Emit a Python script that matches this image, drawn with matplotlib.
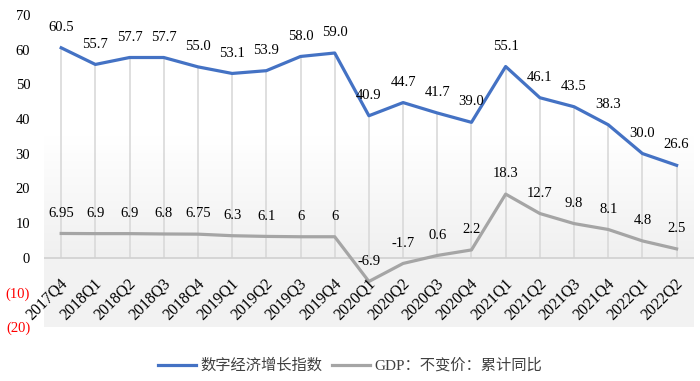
import numpy as np
import matplotlib.pyplot as plt
from matplotlib.colors import LinearSegmentedColormap

plt.rcParams['font.family'] = ['Liberation Serif', 'Noto Sans CJK SC']

quarters = ['2017Q4', '2018Q1', '2018Q2', '2018Q3', '2018Q4', '2019Q1', '2019Q2',
            '2019Q3', '2019Q4', '2020Q1', '2020Q2', '2020Q3', '2020Q4', '2021Q1',
            '2021Q2', '2021Q3', '2021Q4', '2022Q1', '2022Q2']
digital_index = [60.5, 55.7, 57.7, 57.7, 55.0, 53.1, 53.9, 58.0, 59.0, 40.9,
                 44.7, 41.7, 39.0, 55.1, 46.1, 43.5, 38.3, 30.0, 26.6]
gdp = [6.95, 6.9, 6.9, 6.8, 6.75, 6.3, 6.1, 6, 6, -6.9,
       -1.7, 0.6, 2.2, 18.3, 12.7, 9.8, 8.1, 4.8, 2.5]
gdp_labels = ['6.95', '6.9', '6.9', '6.8', '6.75', '6.3', '6.1', '6', '6', '-6.9',
              '-1.7', '0.6', '2.2', '18.3', '12.7', '9.8', '8.1', '4.8', '2.5']
yticks = [-20, -10, 0, 10, 20, 30, 40, 50, 60, 70]

fig = plt.figure(figsize=(7, 3.81), dpi=100)
ax = fig.add_axes([0.063, 0.142, 0.928, 0.819])

x = np.arange(len(quarters))
xmin, xmax = -0.5, len(quarters) - 0.5
ymin, ymax = -20, 70

# background: gradient above zero, flat light gray below
cmap = LinearSegmentedColormap.from_list('bg', ['#ffffff', '#ffffff', '#f0f0f0'])
grad = np.linspace(0, 1, 256).reshape(-1, 1)
ax.imshow(grad, cmap=cmap, aspect='auto', extent=[xmin, xmax, 0, ymax],
          zorder=0, origin='upper')
ax.axhspan(ymin, 0, color='#f2f2f2', lw=0, zorder=0)

# drop lines and zero line
ax.vlines(x, 0, digital_index, color='#d9d9d9', lw=1.2, zorder=1)
ax.axhline(0, color='#d0d0d0', lw=1.2, zorder=1)

ax.plot(x, digital_index, color='#4472C4', lw=2.3, zorder=3, label='数字经济增长指数')
ax.plot(x, gdp, color='#A5A5A5', lw=2.3, zorder=3, label='GDP：不变价：累计同比')

for i, v in enumerate(digital_index):
    ax.annotate(f'{v:.1f}', (i, v), xytext=(0, 10), textcoords='offset points',
                ha='center', va='bottom', fontsize=10.5)
for i, v in enumerate(gdp):
    ax.annotate(gdp_labels[i], (i, v), xytext=(0, 10), textcoords='offset points',
                ha='center', va='bottom', fontsize=10.5)

# category labels below the zero line
for i, q in enumerate(quarters):
    ax.text(i - 0.05, -5.2, q, rotation=45, ha='right', va='top',
            rotation_mode='anchor', fontsize=11.5)

ax.set_xlim(xmin, xmax)
ax.set_ylim(ymin, ymax)
ax.set_xticks([])
ax.set_yticks(yticks)
ax.set_yticklabels([f'({-t})' if t < 0 else str(t) for t in yticks], fontsize=10.5)
for t, lab in zip(yticks, ax.get_yticklabels()):
    if t < 0:
        lab.set_color('red')
ax.tick_params(axis='y', length=0, pad=10)
for s in ax.spines.values():
    s.set_visible(False)

leg = fig.legend(loc='lower center', bbox_to_anchor=(0.5, -0.015), ncol=2, frameon=False,
                 fontsize=11, handlelength=2.5, columnspacing=0.6, handletextpad=0.3)
for t in leg.get_texts():
    t.set_color('#404040')

fig.savefig('out.png', dpi=100)
